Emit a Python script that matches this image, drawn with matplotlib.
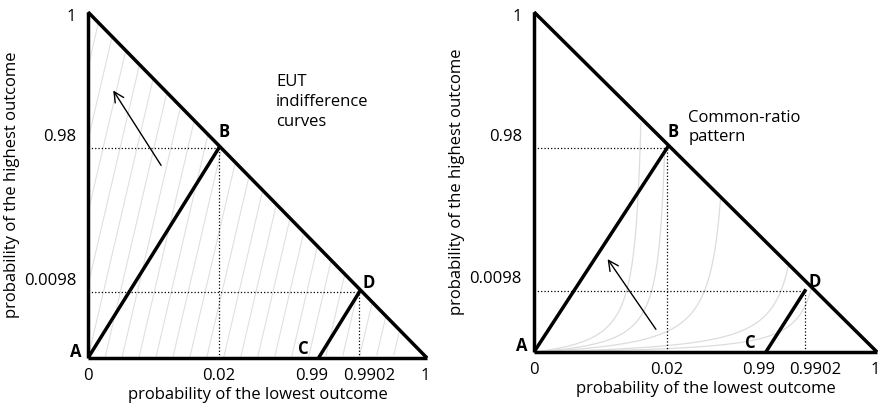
import matplotlib.pyplot as plt
import numpy as np

# schematic triangle coordinates (x = p lowest, y = p highest)
B_left = (0.386, 0.607)
D_left = (0.80, 0.19)
C_left = 0.68
B_right = (0.388, 0.60)
D_right = (0.79, 0.18)
C_right = 0.676
x_ticks = ['0', '0.02', '0.99', '0.9902', '1']
y_ticks = ['0.0098', '0.98', '1']
eut_offsets = np.arange(-0.80, 0.95, 0.05)   # x-intercepts of EUT lines
eut_slope = 4.2
fan_k = [0.33, 0.40, 0.58, 0.80, 0.86]        # asymptotes of fanning curves
fan_c = [0.04, 0.03, 0.03, 0.02, 0.012]

fig = plt.figure(figsize=(8.82, 4.08), dpi=100)
plt.rcParams['font.family'] = ['Open Sans', 'DejaVu Sans']
W, H = 882, 408
FS = 12


def panel(rect, B, D, C):
    ax = fig.add_axes(rect)
    ax.set_xlim(0, 1)
    ax.set_ylim(0, 1)
    ax.axis('off')
    for ln in [([0, 0], [0, 1]), ([0, 1], [1, 0]), ([0, 1], [0, 0])]:
        ax.plot(*ln, color='black', lw=2.5, solid_capstyle='butt', clip_on=False)
    ax.plot([0, B[0]], [0, B[1]], color='black', lw=2.5)
    ax.plot([C, D[0]], [0, D[1]], color='black', lw=2.5)
    for P in (B, D):
        ax.plot([0, P[0]], [P[1], P[1]], color='black', lw=0.9, ls=':')
        ax.plot([P[0], P[0]], [0, P[1]], color='black', lw=0.9, ls=':')
    kw = dict(fontsize=FS, fontweight='bold')
    ax.text(-0.02, -0.01, 'A', ha='right', va='bottom', **kw)
    ax.text(B[0] + 0.0, B[1] + 0.02, 'B', ha='left', va='bottom', **kw)
    ax.text(D[0] + 0.01, D[1] + 0.0, 'D', ha='left', va='bottom', **kw)
    ax.text(C - 0.03, 0.0, 'C', ha='right', va='bottom', **kw)
    xoff = [0, 0, -0.02, 0.03, -0.006]
    for xv, lab, o in zip([0, B[0], C, D[0], 1], x_ticks, xoff):
        ax.text(xv + o, -0.03, lab, ha='center', va='top', fontsize=FS)
    for yv, lab in zip([D[1], B[1]], y_ticks[:2]):
        ax.text(-0.035, yv + 0.01, lab, ha='right', va='bottom', fontsize=FS)
    ax.text(-0.035, 0.985, y_ticks[2], ha='right', va='center', fontsize=FS)
    ax.text(0.5, -0.085, 'probability of the lowest outcome', ha='center', va='top', fontsize=FS)
    ax.text(-0.225, 0.5, 'probability of the highest outcome', rotation=90,
            ha='center', va='center', fontsize=FS)
    return ax


axL = panel([88 / W, 50 / H, 339 / W, 346 / H], B_left, D_left, C_left)
xs = np.linspace(0, 1, 400)
for b in eut_offsets:
    y = eut_slope * (xs - b)
    m = (y >= 0) & (y <= 1 - xs)
    if m.sum() > 1:
        axL.plot(xs[m], y[m], color='#e0e0e0', lw=0.8, zorder=0)
axL.annotate('', xy=(0.07, 0.78), xytext=(0.22, 0.55),
             arrowprops=dict(arrowstyle='->', color='black', lw=1, mutation_scale=18))
axL.text(0.555, 0.74, 'EUT\nindifference\ncurves', ha='left', va='center',
         fontsize=FS, linespacing=1.3)

axR = panel([534 / W, 56 / H, 343 / W, 340 / H], B_right, D_right, C_right)
for k, c in zip(fan_k, fan_c):
    x = np.linspace(0, k * 0.999, 600)
    y = c * x / (k - x)
    m = y <= 1 - x
    axR.plot(x[m], y[m], color='#dcdcdc', lw=0.9, zorder=0)
axR.annotate('', xy=(0.21, 0.28), xytext=(0.36, 0.06),
             arrowprops=dict(arrowstyle='->', color='black', lw=1, mutation_scale=18))
axR.text(0.45, 0.66, 'Common-ratio\npattern', ha='left', va='center',
         fontsize=FS, linespacing=1.3)

fig.savefig('out.png', dpi=100)
